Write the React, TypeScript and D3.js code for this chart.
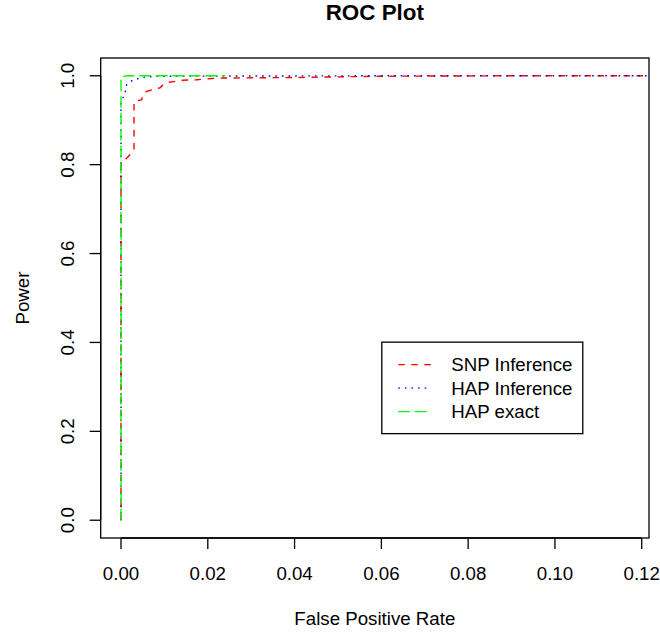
import React from "react";
import * as d3 from "d3";

const W = 660;
const H = 633;

// Data
const fprSNP = [0, 0, 0.0009, 0.0028, 0.003, 0.003, 0.0048, 0.005, 0.0059, 0.009, 0.0101, 0.0143, 0.0175, 0.021, 0.0235, 0.039, 0.06, 0.09, 0.13];
const powSNP = [0, 0.807, 0.81, 0.83, 0.832, 0.942, 0.946, 0.957, 0.965, 0.973, 0.984, 0.99, 0.991, 0.994, 0.995, 0.996, 0.999, 1.0, 1.0];

const fprHAPInf = [0, 0, 0.0002, 0.0008, 0.0013, 0.0028, 0.0054, 0.0082, 0.03, 0.06, 0.13];
const powHAPInf = [0, 0.94, 0.947, 0.955, 0.98, 0.991, 0.997, 0.999, 0.9995, 1.0, 1.0];

const fprHAPExact = [0, 0, 0.0015, 0.024];
const powHAPExact = [0, 0.998, 1.0, 1.0];

const xTicks = [0, 0.02, 0.04, 0.06, 0.08, 0.1, 0.12];
const yTicks = [0, 0.2, 0.4, 0.6, 0.8, 1.0];

const seriesNames = ["SNP Inference", "HAP Inference", "HAP exact"];
const seriesColors = ["#ff0000", "#0000ff", "#00ff00"];
const seriesDash = ["6.5,6.5", "1.6,5", "11.5,5"];

const xData = [0, 0.117];
const yData = [0, 1];

export default function App() {
  const box = { left: 100.7, right: 649, top: 58, bottom: 538 };
  const xPad = (xData[1] - xData[0]) * 0.04;
  const yPad = (yData[1] - yData[0]) * 0.04;
  const x = d3.scaleLinear().domain([xData[0] - xPad, xData[1] + xPad]).range([box.left, box.right]);
  const y = d3.scaleLinear().domain([yData[0] - yPad, yData[1] + yPad]).range([box.bottom, box.top]);

  const line = d3
    .line<[number, number]>()
    .x((d) => x(d[0]))
    .y((d) => y(d[1]));

  const series = [
    fprSNP.map((f, i) => [f, powSNP[i]] as [number, number]),
    fprHAPInf.map((f, i) => [f, powHAPInf[i]] as [number, number]),
    fprHAPExact.map((f, i) => [f, powHAPExact[i]] as [number, number]),
  ];

  const font = "'Liberation Sans', Arial, Helvetica, sans-serif";
  const fs = 18.7;
  const tickLen = 11;

  // legend anchored at data coordinates (top-left)
  const legX = x(0.0601);
  const legY = y(0.4007);
  const legW = 201;
  const legH = 91.5;
  const rowH = 23.5;

  const cx = (box.left + box.right) / 2;
  const cy = (box.top + box.bottom) / 2;

  return (
    <svg
      width={W}
      height={H}
      style={{ position: "absolute", left: 0, top: 0, background: "#fff" }}
      fontFamily={font}
    >
      <rect x={0} y={0} width={W} height={H} fill="#fff" />
      <defs>
        <clipPath id="plotClip">
          <rect x={box.left} y={box.top} width={box.right - box.left} height={box.bottom - box.top} />
        </clipPath>
      </defs>

      {/* series */}
      <g clipPath="url(#plotClip)">
        {series.map((s, i) => (
          <path
            key={i}
            d={line(s) || ""}
            fill="none"
            stroke={seriesColors[i]}
            strokeWidth={1.4}
            strokeDasharray={seriesDash[i]}
          />
        ))}
      </g>

      {/* box */}
      <rect
        x={box.left}
        y={box.top}
        width={box.right - box.left}
        height={box.bottom - box.top}
        fill="none"
        stroke="#000"
        strokeWidth={1.3}
      />

      {/* x axis */}
      <line x1={x(xTicks[0])} x2={x(xTicks[xTicks.length - 1])} y1={box.bottom} y2={box.bottom} stroke="#000" strokeWidth={1.3} />
      {xTicks.map((t) => (
        <g key={"xt" + t}>
          <line x1={x(t)} x2={x(t)} y1={box.bottom} y2={box.bottom + tickLen} stroke="#000" strokeWidth={1.3} />
          <text x={x(t)} y={580} fontSize={fs} textAnchor="middle" fill="#000">
            {t.toFixed(2)}
          </text>
        </g>
      ))}

      {/* y axis */}
      <line x1={box.left} x2={box.left} y1={y(yTicks[0])} y2={y(yTicks[yTicks.length - 1])} stroke="#000" strokeWidth={1.3} />
      {yTicks.map((t) => (
        <g key={"yt" + t}>
          <line x1={box.left} x2={box.left - tickLen} y1={y(t)} y2={y(t)} stroke="#000" strokeWidth={1.3} />
          <text
            transform={`translate(74,${y(t)}) rotate(-90)`}
            fontSize={fs}
            textAnchor="middle"
            fill="#000"
          >
            {t.toFixed(1)}
          </text>
        </g>
      ))}

      {/* axis titles */}
      <text x={cx} y={625} fontSize={fs} textAnchor="middle" fill="#000">
        False Positive Rate
      </text>
      <text transform={`translate(29,${cy}) rotate(-90)`} fontSize={fs} textAnchor="middle" fill="#000">
        Power
      </text>
      <text x={cx} y={20} fontSize={22.4} fontWeight="bold" textAnchor="middle" fill="#000">
        ROC Plot
      </text>

      {/* legend */}
      <rect x={legX} y={legY} width={legW} height={legH} fill="#fff" stroke="#000" strokeWidth={1.3} />
      {seriesNames.map((name, i) => {
        const ry = legY + 22.5 + i * rowH;
        return (
          <g key={name}>
            <line
              x1={legX + 16.5}
              x2={legX + 49}
              y1={ry}
              y2={ry}
              stroke={seriesColors[i]}
              strokeWidth={1.4}
              strokeDasharray={seriesDash[i]}
            />
            <text x={legX + 69.5} y={ry + 6.7} fontSize={fs} fill="#000">
              {name}
            </text>
          </g>
        );
      })}
    </svg>
  );
}
